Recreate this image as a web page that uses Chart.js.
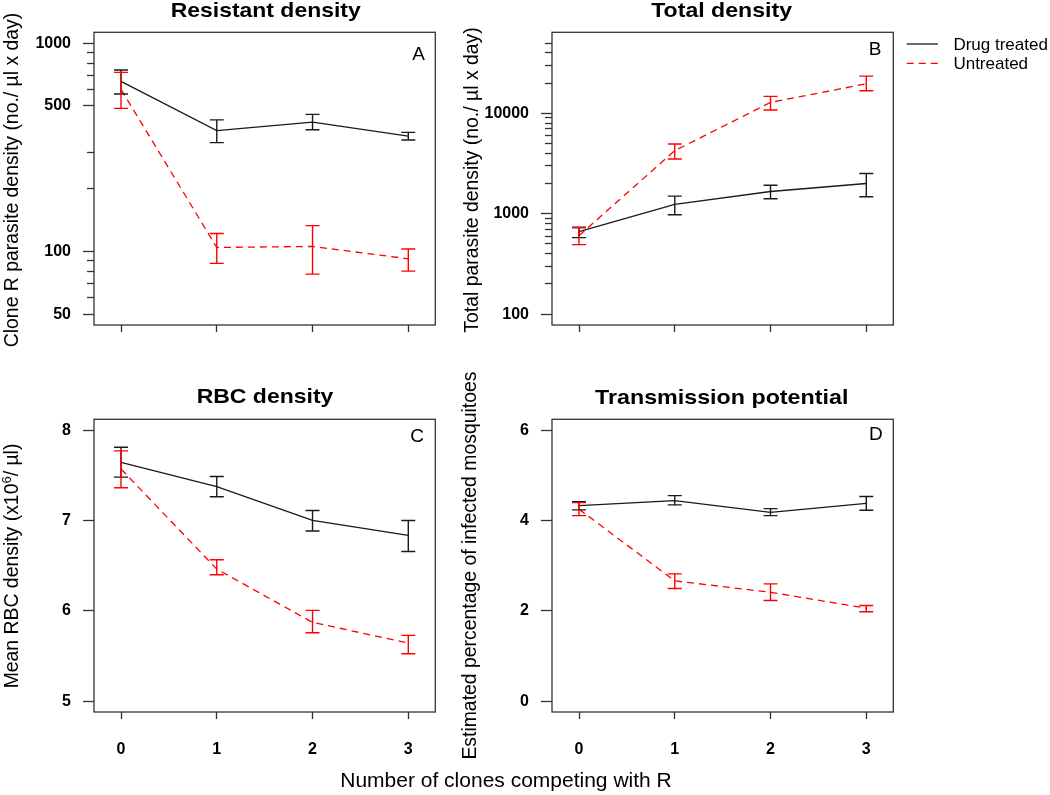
<html>
<head>
<meta charset="UTF-8">
<script src="https://cdn.jsdelivr.net/npm/chart.js@4.4.1/dist/chart.umd.min.js"></script>
<style>
    body { margin: 0; background: #fff; width: 1050px; height: 795px; overflow: hidden; position: relative;
           font-family: "Liberation Sans", Arial, sans-serif; }
    canvas { position: absolute; }
    #xlab { position: absolute; left: 0; width: 1012px; top: 768px; text-align: center;
            font-size: 21px; line-height: 24px; color: #000; }
</style>
</head>
<body>
<canvas id="cA" width="460" height="370" style="left:0px;top:0px"></canvas>
<canvas id="cB" width="595" height="370" style="left:455px;top:0px"></canvas>
<canvas id="cC" width="460" height="425" style="left:0px;top:370px"></canvas>
<canvas id="cD" width="455" height="425" style="left:455px;top:370px"></canvas>
<div id="xlab">Number of clones competing with R</div>

<script>
// number of clones competing with R
var clones = [0, 1, 2, 3];

// A - resistant density
var resDrug   = [655, 380, 418, 358];
var resDrugLo = [570, 333, 384, 343];
var resDrugHi = [743, 428, 455, 373];
var resUnt    = [600, 104.5, 105.7, 92.2];
var resUntLo  = [486, 87.7, 77.8, 80.5];
var resUntHi  = [724, 122, 133, 102.7];
var resMajor  = [50, 100, 500, 1000];
var resMinor  = [60, 70, 80, 90, 200, 300, 600, 700, 800, 900];

// B - total density
var totDrug   = [663, 1237, 1665, 2000];
var totDrugLo = [578, 977, 1410, 1476];
var totDrugHi = [736, 1496, 1923, 2515];
var totUnt    = [605, 4250, 12850, 19700];
var totUntLo  = [492, 3513, 10790, 16770];
var totUntHi  = [726, 4955, 14750, 23450];
var totMajor  = [100, 1000, 10000];
var totMinor  = [200, 300, 400, 500, 600, 700, 800, 900,
                 2000, 3000, 4000, 5000, 6000, 7000, 8000, 9000,
                 20000, 30000, 40000, 50000];

// C - RBC density
var rbcDrug   = [7.642, 7.376, 7.0, 6.834];
var rbcDrugLo = [7.48, 7.262, 6.883, 6.657];
var rbcDrugHi = [7.81, 7.487, 7.11, 7.0];
var rbcUnt    = [7.57, 6.462, 5.872, 5.644];
var rbcUntLo  = [7.362, 6.399, 5.758, 5.525];
var rbcUntHi  = [7.771, 6.565, 6.005, 5.728];
var rbcTicks  = [5, 6, 7, 8];

// D - transmission potential
var trnDrug   = [4.33, 4.44, 4.18, 4.38];
var trnDrugLo = [4.234, 4.345, 4.108, 4.226];
var trnDrugHi = [4.418, 4.55, 4.263, 4.53];
var trnUnt    = [4.25, 2.663, 2.41, 2.058];
var trnUntLo  = [4.108, 2.493, 2.228, 1.978];
var trnUntHi  = [4.396, 2.818, 2.597, 2.117];
var trnTicks  = [0, 2, 4, 6];

var seriesNames = ['Drug treated', 'Untreated'];

var FONT = '"Liberation Sans", Arial, sans-serif';
var BLACK = '#1a1a1a', RED = '#ff0000', AXIS = '#333';

function pts(vals) {
    return vals.map(function(v, i) { return {x: clones[i], y: v}; });
}

// error bars from the lo / hi arrays kept on each dataset
var errorBars = {
    id: 'errorBars',
    afterDatasetsDraw: function(chart) {
        var ctx = chart.ctx, xs = chart.scales.x, ys = chart.scales.y;
        chart.data.datasets.forEach(function(ds) {
            ctx.save();
            ctx.strokeStyle = ds.borderColor;
            ctx.lineWidth = 1.4;
            for (var i = 0; i < ds.data.length; i++) {
                var px = xs.getPixelForValue(ds.data[i].x);
                var lo = ys.getPixelForValue(ds.lo[i]);
                var hi = ys.getPixelForValue(ds.hi[i]);
                ctx.beginPath();
                ctx.moveTo(px, lo); ctx.lineTo(px, hi);
                ctx.moveTo(px - 7, lo); ctx.lineTo(px + 7, lo);
                ctx.moveTo(px - 7, hi); ctx.lineTo(px + 7, hi);
                ctx.stroke();
            }
            ctx.restore();
        });
    }
};

// box, title, panel letter, y title and legend
var panelText = {
    id: 'panelText',
    afterDraw: function(chart, args, o) {
        var ctx = chart.ctx, a = chart.chartArea;
        ctx.save();
        ctx.strokeStyle = AXIS;
        ctx.lineWidth = 1.3;
        ctx.strokeRect(a.left, a.top, a.right - a.left, a.bottom - a.top);

        ctx.fillStyle = '#000';
        ctx.textBaseline = 'alphabetic';

        // title, stretched like the reference
        ctx.font = 'bold 20.5px ' + FONT;
        var w = ctx.measureText(o.title).width;
        ctx.save();
        ctx.translate(o.titleX, o.titleY);
        ctx.scale(o.titleW / w, 1);
        ctx.textAlign = 'left';
        ctx.fillText(o.title, -w / 2, 0);
        ctx.restore();

        ctx.font = '19px ' + FONT;
        ctx.textAlign = 'right';
        ctx.fillText(o.letter, o.letterX, o.letterY);

        // rotated y title, pieces may be superscript
        ctx.save();
        ctx.translate(o.yTitleX, o.yTitleY);
        ctx.rotate(-Math.PI / 2);
        ctx.textAlign = 'left';
        var total = 0, sizes = [];
        o.yTitle.forEach(function(p) {
            ctx.font = (p.sup ? 13 : 19.4) + 'px ' + FONT;
            var tw = ctx.measureText(p.t).width;
            sizes.push(tw); total += tw;
        });
        var cx = -total / 2;
        o.yTitle.forEach(function(p, i) {
            ctx.font = (p.sup ? 13 : 19.4) + 'px ' + FONT;
            ctx.fillText(p.t, cx, p.sup ? -7.5 : 0);
            cx += sizes[i];
        });
        ctx.restore();

        if (o.legend) {
            var ys = [44, 63.3];
            chart.data.datasets.forEach(function(ds, i) {
                ctx.strokeStyle = ds.borderColor;
                ctx.lineWidth = 1.3;
                ctx.setLineDash(ds.borderDash || []);
                ctx.beginPath();
                ctx.moveTo(451.7, ys[i]); ctx.lineTo(482.9, ys[i]);
                ctx.stroke();
                ctx.setLineDash([]);
                ctx.font = '17px ' + FONT;
                ctx.textAlign = 'left';
                ctx.fillStyle = '#000';
                ctx.fillText(ds.label, 498.4, ys[i] + 6.1);
            });
        }
        ctx.restore();
    }
};

function tickFont() { return {family: FONT, size: 16, weight: 'bold'}; }

function makePanel(id, p) {
    var scales = {
        x: {
            type: 'linear', position: 'bottom', min: -0.282, max: 3.282, bounds: 'data',
            afterBuildTicks: function(sc) { sc.ticks = clones.map(function(v) { return {value: v}; }); },
            afterFit: function(sc) { sc.height = p.xH; },
            ticks: {autoSkip: false, maxRotation: 0, padding: 20.7, color: '#000', font: tickFont(),
                    callback: function(v) { return p.xLabels ? String(v) : ''; }},
            grid: {drawOnChartArea: false, tickLength: 7, tickColor: AXIS, tickWidth: 1.3},
            border: {display: false}
        },
        y: {
            type: p.yType, position: 'left', min: p.yMin, max: p.yMax, bounds: 'data', weight: 1,
            afterBuildTicks: function(sc) { sc.ticks = p.major.map(function(v) { return {value: v}; }); },
            afterFit: function(sc) { sc.width = p.yW; },
            ticks: {autoSkip: false, padding: 12, color: '#000', font: tickFont(),
                    callback: function(v) { return String(v); }},
            grid: {drawOnChartArea: false, tickLength: 11, tickColor: AXIS, tickWidth: 1.3},
            border: {display: false}
        }
    };
    if (p.minor) {
        scales.yMinor = {
            type: p.yType, position: 'left', min: p.yMin, max: p.yMax, bounds: 'data', weight: 0,
            afterBuildTicks: function(sc) { sc.ticks = p.minor.map(function(v) { return {value: v}; }); },
            afterFit: function(sc) { sc.width = 0; },
            ticks: {display: false, autoSkip: false},
            grid: {drawOnChartArea: false, tickLength: 7, tickColor: AXIS, tickWidth: 1.3},
            border: {display: false}
        };
    }

    return new Chart(document.getElementById(id), {
        type: 'line',
        data: {
            datasets: [{
                label: seriesNames[0], data: pts(p.drug), lo: p.drugLo, hi: p.drugHi,
                borderColor: BLACK, borderWidth: 1.3, pointRadius: 0, fill: false, tension: 0
            }, {
                label: seriesNames[1], data: pts(p.unt), lo: p.untLo, hi: p.untHi,
                borderColor: RED, borderWidth: 1.3, borderDash: [7, 5], pointRadius: 0, fill: false, tension: 0
            }]
        },
        options: {
            responsive: false,
            animation: false,
            layout: {padding: p.pad},
            scales: scales,
            plugins: {
                legend: {display: false},
                title: {display: false},
                tooltip: {enabled: false},
                panelText: p.text
            }
        },
        plugins: [errorBars, panelText]
    });
}

makePanel('cA', {
    drug: resDrug, drugLo: resDrugLo, drugHi: resDrugHi,
    unt: resUnt, untLo: resUntLo, untHi: resUntHi,
    yType: 'logarithmic', yMin: 44.36, yMax: 1127.3, major: resMajor, minor: resMinor,
    yW: 94, xH: 45, xLabels: false,
    pad: {left: 0, top: 32.3, right: 24.7, bottom: 0},
    text: {title: 'Resistant density', titleX: 265.7, titleY: 17.3, titleW: 190,
           letter: 'A', letterX: 425, letterY: 60,
           yTitle: [{t: 'Clone R parasite density (no./ \u00b5l x day)'}], yTitleX: 18, yTitleY: 180}
});

makePanel('cB', {
    drug: totDrug, drugLo: totDrugLo, drugHi: totDrugHi,
    unt: totUnt, untLo: totUntLo, untHi: totUntHi,
    yType: 'logarithmic', yMin: 77.96, yMax: 64130, major: totMajor, minor: totMinor,
    yW: 97, xH: 45, xLabels: false,
    pad: {left: 0, top: 32.3, right: 156.7, bottom: 0},
    text: {title: 'Total density', titleX: 266.6, titleY: 17.3, titleW: 140.8,
           letter: 'B', letterX: 426.5, letterY: 55,
           yTitle: [{t: 'Total parasite density (no./ \u00b5l x day)'}], yTitleX: 23, yTitleY: 180,
           legend: true}
});

makePanel('cC', {
    drug: rbcDrug, drugLo: rbcDrugLo, drugHi: rbcDrugHi,
    unt: rbcUnt, untLo: rbcUntLo, untHi: rbcUntHi,
    yType: 'linear', yMin: 4.88, yMax: 8.12, major: rbcTicks,
    yW: 94, xH: 83, xLabels: true,
    pad: {left: 0, top: 49.3, right: 24.7, bottom: 0},
    text: {title: 'RBC density', titleX: 265, titleY: 33.3, titleW: 136.7,
           letter: 'C', letterX: 424, letterY: 71.7,
           yTitle: [{t: 'Mean RBC density (x10'}, {t: '6', sup: true}, {t: '/ \u00b5l)'}],
           yTitleX: 18, yTitleY: 196}
});

makePanel('cD', {
    drug: trnDrug, drugLo: trnDrugLo, drugHi: trnDrugHi,
    unt: trnUnt, untLo: trnUntLo, untHi: trnUntHi,
    yType: 'linear', yMin: -0.24, yMax: 6.24, major: trnTicks,
    yW: 97, xH: 83, xLabels: true,
    pad: {left: 0, top: 49.3, right: 16.7, bottom: 0},
    text: {title: 'Transmission potential', titleX: 266.7, titleY: 34.3, titleW: 253.3,
           letter: 'D', letterX: 427.7, letterY: 70,
           yTitle: [{t: 'Estimated percentage of infected mosquitoes'}], yTitleX: 20.5, yTitleY: 195.6}
});
</script>
</body>
</html>
